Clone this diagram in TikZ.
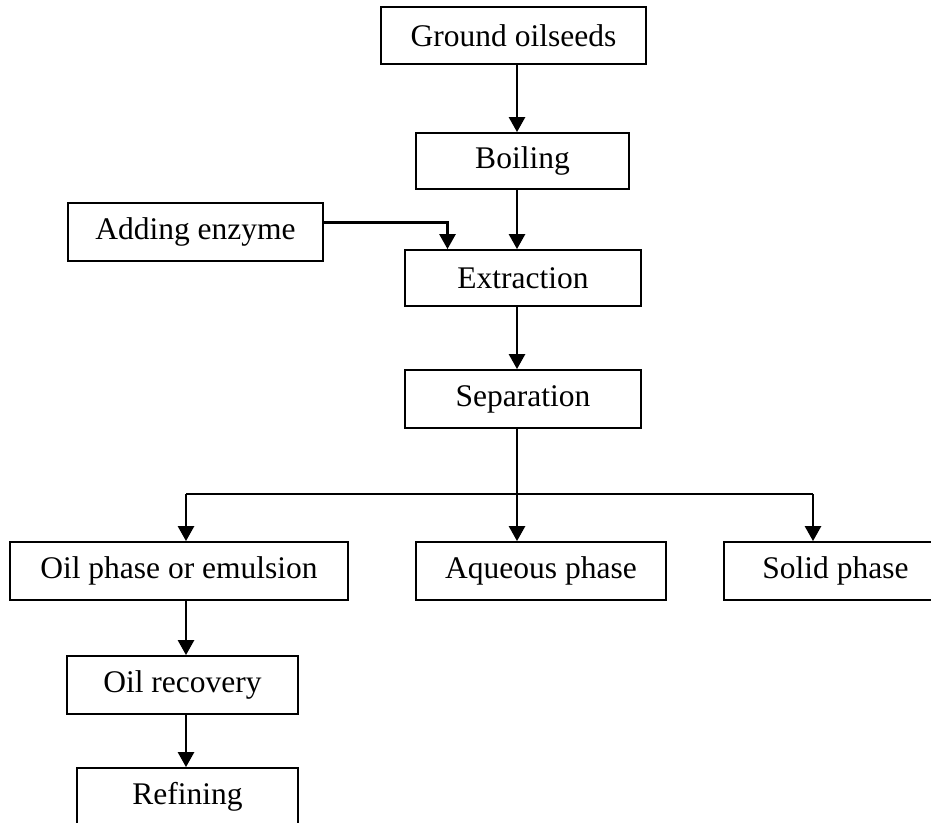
\documentclass[tikz,border=0pt]{standalone}
\usepackage{fontspec}
\setmainfont{Liberation Serif}
\usetikzlibrary{arrows.meta}
\begin{document}
\begin{tikzpicture}[x=0.5pt,y=-0.5pt,
every node/.style={font=\fontsize{15.75}{18}\selectfont},
stage/.style={rectangle,draw,line width=0.9pt,inner sep=0pt,minimum height=28.5pt},
flow/.style={line width=1.3pt,-{Triangle[length=7.5pt,width=8pt]}}]
\useasboundingbox (0,0) rectangle (931,823);
\node [stage,minimum width=132.5pt] (ground) at (513.5,35.5) {Ground oilseeds};
\node [stage,minimum width=106.5pt,minimum height=28pt] (boil) at (522.5,161) {Boiling};
\node [stage,minimum width=127.5pt,minimum height=29pt] (enzyme) at (195.5,232) {Adding enzyme};
\node [stage,minimum width=118pt,minimum height=28pt] (extract) at (523,278) {Extraction};
\node [stage,minimum width=118pt,minimum height=29pt] (sep) at (523,399) {Separation};
\node [stage,minimum width=169pt,minimum height=29pt] (oil) at (179,571) {Oil phase or emulsion};
\node [stage,minimum width=125pt,minimum height=29pt] (aqueous) at (541,571) {Aqueous phase};
\node [stage,minimum width=111.5pt,minimum height=29pt] (solid) at (835.5,571) {Solid phase};
\node [stage,minimum width=115.5pt,minimum height=29pt] (recovery) at (182.5,685) {Oil recovery};
\node [stage,minimum width=110.5pt,minimum height=29pt] (refine) at (187.5,797) {Refining};
\coordinate (spine) at (517,494);
\coordinate (inlet) at (447.5,222.5);
\coordinate (lbranch) at (186,494);
\coordinate (rbranch) at (813,494);
\draw [flow] (ground.south -| spine) -- (boil.north -| spine);
\draw [flow] (boil.south -| spine) -- (extract.north -| spine);
\draw [flow] (enzyme.east |- inlet) -- (inlet) -- (extract.north -| inlet);
\draw [flow] (extract.south -| spine) -- (sep.north -| spine);
\draw [line width=1.3pt] (sep.south -| spine) -- (spine);
\draw [line width=1.3pt] (lbranch) -- (rbranch);
\draw [flow] (lbranch) -- (oil.north -| lbranch);
\draw [flow] (spine) -- (aqueous.north -| spine);
\draw [flow] (rbranch) -- (solid.north -| rbranch);
\draw [flow] (oil.south -| lbranch) -- (recovery.north -| lbranch);
\draw [flow] (recovery.south -| lbranch) -- (refine.north -| lbranch);
\end{tikzpicture}
\end{document}
